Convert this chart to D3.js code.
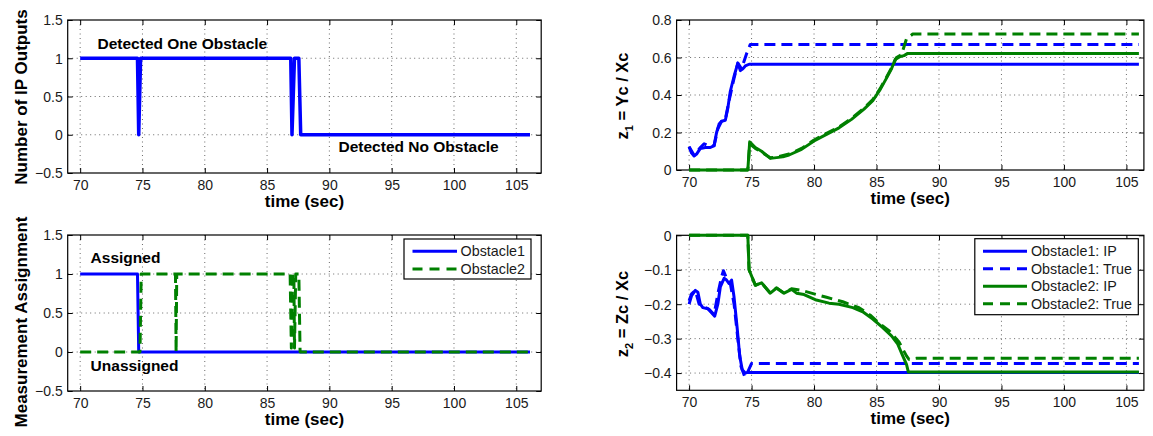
<!DOCTYPE html>
<html><head><meta charset="utf-8">
<script src="https://cdn.jsdelivr.net/npm/d3@7"></script>
<style>body{margin:0;background:#fff} svg{display:block} text{font-family:"Liberation Sans",Arial,Helvetica,sans-serif}</style>
</head><body><svg id="c" width="1153" height="436"></svg>
<script>
// ---------------- data ----------------
const xTicks = [70,75,80,85,90,95,100,105];
const yTicksCount = [-0.5,0,0.5,1,1.5];
const yTicksZ1 = [0,0.2,0.4,0.6,0.8];
const yTicksZ2 = [-0.4,-0.3,-0.2,-0.1,0];

const ipOutputs = [[70,1],[74.6,1],[74.7,0],[74.85,1],[86.9,1],[87.0,0],[87.2,1],[87.55,1],[87.7,0],[106.1,0]];

const assignObs1 = [[70,1],[74.6,1],[74.7,0],[106.1,0]];
const assignObs2 = [[70,0],[74.8,0],[74.9,1],[77.65,1],[77.7,0],[77.75,1],[86.85,1],[86.95,0.05],[87.05,1],[87.15,1],[87.2,0.05],[87.3,1],[87.55,1],[87.65,0],[106.1,0]];

const z1Obs1IP = [[70,0.124],[70.2,0.09],[70.4,0.075],[70.6,0.085],[70.9,0.115],[71.3,0.12],[71.7,0.12],[72.0,0.13],[72.2,0.2],[72.4,0.245],[72.6,0.26],[72.9,0.265],[73.1,0.33],[73.3,0.42],[73.6,0.5],[73.9,0.57],[74.1,0.53],[74.3,0.54],[74.5,0.555],[74.8,0.564],[106,0.564]];
const z1Obs1True = [[70,0.124],[70.4,0.078],[70.9,0.12],[71.2,0.14],[71.5,0.13],[72.0,0.13],[72.3,0.22],[72.6,0.26],[72.9,0.27],[73.2,0.37],[73.6,0.49],[73.9,0.57],[74.2,0.54],[74.6,0.62],[74.9,0.67],[106,0.67]];
const z1Obs2IP = [[70,0],[74.7,0],[74.85,0.15],[75.3,0.12],[75.8,0.1],[76.5,0.062],[77.0,0.066],[77.5,0.07],[78,0.08],[79,0.11],[80,0.155],[81,0.19],[82,0.225],[83,0.27],[84,0.325],[84.7,0.37],[85.3,0.43],[85.8,0.49],[86.2,0.54],[86.5,0.59],[86.9,0.605],[87.2,0.61],[87.5,0.622],[106,0.622]];
const z1Obs2True = [[70,0],[74.7,0],[74.85,0.14],[75.3,0.115],[75.8,0.095],[76.5,0.065],[77.2,0.072],[78,0.085],[79,0.115],[80,0.16],[81,0.195],[82,0.23],[83,0.275],[84,0.33],[84.7,0.375],[85.3,0.435],[85.8,0.495],[86.2,0.545],[86.6,0.6],[87.0,0.615],[87.4,0.7],[87.9,0.725],[106,0.725]];

const z2Obs1IP = [[70,-0.2],[70.2,-0.175],[70.5,-0.16],[70.7,-0.165],[70.9,-0.2],[71.1,-0.21],[71.5,-0.213],[71.8,-0.225],[72.05,-0.235],[72.3,-0.2],[72.5,-0.15],[72.8,-0.125],[73.0,-0.13],[73.2,-0.14],[73.4,-0.13],[73.6,-0.18],[73.85,-0.27],[74.05,-0.35],[74.25,-0.39],[74.5,-0.4],[74.7,-0.398],[106,-0.398]];
const z2Obs1True = [[70,-0.19],[70.2,-0.17],[70.5,-0.16],[70.8,-0.2],[71.1,-0.205],[71.6,-0.215],[72.0,-0.23],[72.3,-0.17],[72.6,-0.12],[72.75,-0.103],[73.0,-0.125],[73.3,-0.14],[73.6,-0.2],[73.9,-0.3],[74.15,-0.38],[74.45,-0.41],[74.65,-0.4],[75.0,-0.372],[106,-0.372]];
const z2Obs2IP = [[70,0],[74.7,0],[74.8,-0.1],[75.3,-0.145],[75.8,-0.138],[76.5,-0.168],[77.0,-0.153],[77.6,-0.168],[78.2,-0.157],[78.6,-0.168],[79.2,-0.172],[80.1,-0.187],[81.2,-0.197],[82.0,-0.2],[83.1,-0.21],[83.9,-0.222],[84.7,-0.243],[85.5,-0.268],[86.2,-0.292],[86.7,-0.316],[87.1,-0.35],[87.4,-0.375],[87.55,-0.397],[106,-0.397]];
const z2Obs2True = [[70,0],[74.7,0],[74.8,-0.1],[75.3,-0.145],[75.8,-0.138],[76.5,-0.168],[77.0,-0.153],[77.6,-0.168],[78.2,-0.155],[79,-0.16],[80,-0.17],[81,-0.18],[82.3,-0.193],[83.6,-0.21],[84.5,-0.232],[85.2,-0.255],[86.0,-0.277],[86.8,-0.31],[87.4,-0.35],[87.6,-0.36],[88.2,-0.357],[106,-0.357]];

const legendAssign = ["Obstacle1","Obstacle2"];
const legendZ = ["Obstacle1: IP","Obstacle1: True","Obstacle2: IP","Obstacle2: True"];

// ---------------- drawing ----------------
const BLUE = "#0000ff", GREEN = "#008000", DASH = "11,6";
const svg = d3.select("#c");
const fmt = d => d3.format("~g")(d).replace("-", "\u2212");

function panel(o){
  const g = svg.append("g");
  const x = d3.scaleLinear().domain(o.xd).range([o.l, o.r]);
  const y = d3.scaleLinear().domain(o.yd).range([o.b, o.t]);
  g.selectAll(".gx").data(xTicks.filter(v=>x(v)>o.l+1 && x(v)<o.r-1)).join("line")
    .attr("x1",d=>x(d)).attr("x2",d=>x(d)).attr("y1",o.t).attr("y2",o.b)
    .attr("stroke","#444").attr("stroke-width",0.8).attr("stroke-dasharray","1,3.5");
  g.selectAll(".gy").data(o.yt.filter(v=>y(v)>o.t+1 && y(v)<o.b-1)).join("line")
    .attr("y1",d=>y(d)).attr("y2",d=>y(d)).attr("x1",o.l).attr("x2",o.r)
    .attr("stroke","#444").attr("stroke-width",0.8).attr("stroke-dasharray","1,3.5");
  const ax = g.append("g").attr("transform",`translate(0,${o.b})`)
    .call(d3.axisBottom(x).tickValues(xTicks).tickSizeInner(-5).tickSizeOuter(0).tickPadding(17).tickFormat(fmt));
  const axT = g.append("g").attr("transform",`translate(0,${o.t})`)
    .call(d3.axisTop(x).tickValues(xTicks).tickSizeInner(-5).tickSizeOuter(0).tickFormat(""));
  const ay = g.append("g").attr("transform",`translate(${o.l},0)`)
    .call(d3.axisLeft(y).tickValues(o.yt).tickSizeInner(-5).tickSizeOuter(0).tickPadding(5).tickFormat(fmt));
  const ayR = g.append("g").attr("transform",`translate(${o.r},0)`)
    .call(d3.axisRight(y).tickValues(o.yt).tickSizeInner(-5).tickSizeOuter(0).tickFormat(""));
  [ax,axT,ay,ayR].forEach(a=>{a.select(".domain").remove(); a.selectAll("line").attr("stroke","#000");});
  ax.selectAll(".tick text").attr("font-size",14).attr("fill","#1a1a1a").attr("y",17).attr("dy","0");
  ay.selectAll("text").attr("font-size",14).attr("fill","#1a1a1a").attr("dy","0.35em");
  ax.attr("font-family",null); ay.attr("font-family",null);
  g.append("rect").attr("x",o.l).attr("y",o.t).attr("width",o.r-o.l).attr("height",o.b-o.t)
    .attr("fill","none").attr("stroke","#000").attr("stroke-width",1.2);
  const line = d3.line().x(d=>x(d[0])).y(d=>y(d[1]));
  o.series.forEach(s=>{
    g.append("path").attr("d",line(s.data)).attr("fill","none").attr("stroke",s.c)
      .attr("stroke-width",s.w).attr("stroke-dasharray",s.dash||null).attr("stroke-linejoin","round");
  });
  g.append("text").attr("x",(o.l+o.r)/2).attr("y",o.b+34).attr("text-anchor","middle")
    .attr("font-size",17).attr("font-weight","bold").text("time (sec)");
  return {g,x,y};
}

// Panel 1
const p1 = panel({l:67.7,r:541.2,t:20,b:173,xd:[69,107],yd:[-0.5,1.5],yt:yTicksCount,
  series:[{data:ipOutputs,c:BLUE,w:3.5}]});
p1.g.append("text").attr("transform","translate(26.5,97) rotate(-90)")
  .attr("text-anchor","middle").attr("font-size",17).attr("font-weight","bold").text("Number of IP Outputs");
p1.g.append("text").attr("x",97.5).attr("y",49).attr("font-size",15.5).attr("font-weight","bold").text("Detected One Obstacle");
p1.g.append("text").attr("x",338.5).attr("y",152).attr("font-size",15.5).attr("font-weight","bold").text("Detected No Obstacle");

// Panel 3
const p3 = panel({l:67.7,r:541.2,t:235,b:391,xd:[69,107],yd:[-0.5,1.5],yt:yTicksCount,
  series:[{data:assignObs1,c:BLUE,w:3},{data:assignObs2,c:GREEN,w:3,dash:DASH}]});
p3.g.append("text").attr("transform","translate(26.5,322) rotate(-90)")
  .attr("text-anchor","middle").attr("font-size",17).attr("font-weight","bold").text("Measurement Assignment");
p3.g.append("text").attr("x",90.6).attr("y",263).attr("font-size",15.5).attr("font-weight","bold").text("Assigned");
p3.g.append("text").attr("x",90.6).attr("y",371).attr("font-size",15.5).attr("font-weight","bold").text("Unassigned");
(function(){
  const lg = p3.g.append("g");
  lg.append("rect").attr("x",404).attr("y",239).attr("width",127).attr("height",40).attr("fill","#fff").attr("stroke","#000").attr("stroke-width",1.2);
  const st = [{c:BLUE},{c:GREEN,dash:"10,7"}];
  legendAssign.forEach((t,i)=>{
    const yy = 251.3 + i*17.7;
    lg.append("line").attr("x1",412.5).attr("x2",457).attr("y1",yy).attr("y2",yy).attr("stroke",st[i].c).attr("stroke-width",3).attr("stroke-dasharray",st[i].dash||null);
    lg.append("text").attr("x",460.6).attr("y",yy).attr("dy","0.35em").attr("font-size",14.3).attr("fill","#1a1a1a").text(t);
  });
})();

// Panel 2
const p2 = panel({l:676.6,r:1143.9,t:20,b:170,xd:[69,106.4],yd:[0,0.8],yt:yTicksZ1,
  series:[{data:z1Obs1IP,c:BLUE,w:3},{data:z1Obs1True,c:BLUE,w:3,dash:DASH},
          {data:z1Obs2IP,c:GREEN,w:3},{data:z1Obs2True,c:GREEN,w:3,dash:DASH}]});
(function(){
  const t = p2.g.append("text").attr("transform","translate(628,96) rotate(-90)").attr("text-anchor","middle")
    .attr("font-size",16.5).attr("font-weight","bold");
  t.append("tspan").text("z");
  t.append("tspan").attr("font-size",11).attr("dy",5).text("1");
  t.append("tspan").attr("dy",-5).text(" = Yc / Xc");
})();

// Panel 4
const p4 = panel({l:676.6,r:1143.9,t:235.3,b:390.3,xd:[69,106.4],yd:[-0.45,0],yt:yTicksZ2,
  series:[{data:z2Obs1IP,c:BLUE,w:3},{data:z2Obs1True,c:BLUE,w:3,dash:DASH},
          {data:z2Obs2IP,c:GREEN,w:3},{data:z2Obs2True,c:GREEN,w:3,dash:DASH}]});
(function(){
  const t = p4.g.append("text").attr("transform","translate(628,314) rotate(-90)").attr("text-anchor","middle")
    .attr("font-size",16.5).attr("font-weight","bold");
  t.append("tspan").text("z");
  t.append("tspan").attr("font-size",11).attr("dy",5).text("2");
  t.append("tspan").attr("dy",-5).text(" = Zc / Xc");
  const lg = p4.g.append("g");
  lg.append("rect").attr("x",974.8).attr("y",238.7).attr("width",163.5).attr("height",76).attr("fill","#fff").attr("stroke","#000").attr("stroke-width",1.2);
  const st = [{c:BLUE},{c:BLUE,dash:"10,7"},{c:GREEN},{c:GREEN,dash:"10,7"}];
  legendZ.forEach((s,i)=>{
    const yy = 251.3 + i*17.5;
    lg.append("line").attr("x1",983).attr("x2",1027).attr("y1",yy).attr("y2",yy).attr("stroke",st[i].c).attr("stroke-width",3).attr("stroke-dasharray",st[i].dash||null);
    lg.append("text").attr("x",1031).attr("y",yy).attr("dy","0.35em").attr("font-size",14.3).attr("fill","#1a1a1a").text(s);
  });
})();
</script></body></html>
